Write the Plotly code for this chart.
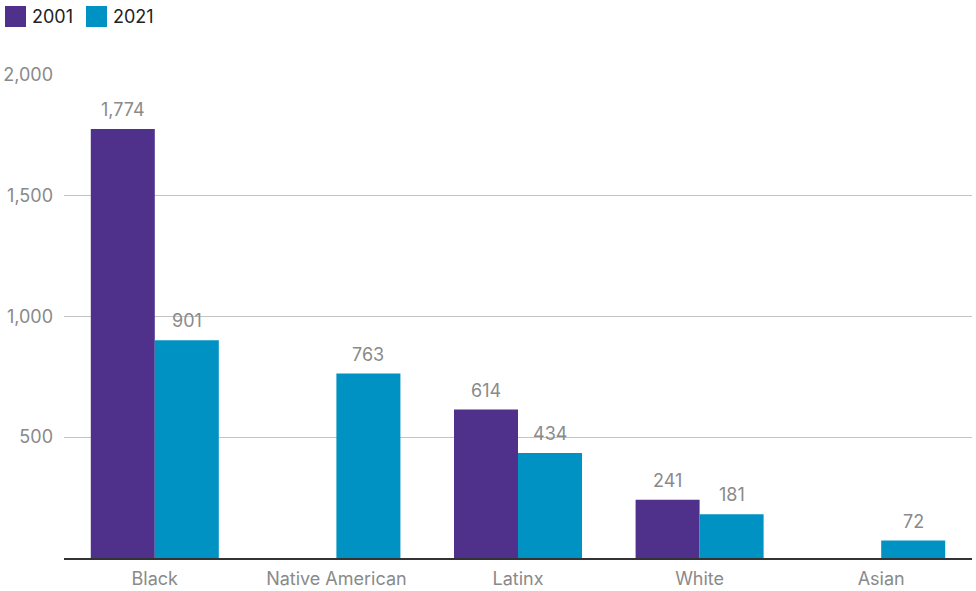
import plotly.graph_objects as go

categories = ["Black", "Native American", "Latinx", "White", "Asian"]
values_2001 = [1774, None, 614, 241, None]
values_2021 = [901, 763, 434, 181, 72]
series_names = ["2001", "2021"]
tick_vals = [500, 1000, 1500, 2000]
tick_text = ["500", "1,000", "1,500", "2,000"]

PURPLE = "#4F318C"
TEAL = "#0092C2"
GRAY = "#8a8a8a"
FONT = "Inter, Roboto, sans-serif"

W, H = 976, 591
ML, MR, MT, MB = 64, 4, 74, 33
BARGAP = 0.295
PW, PH = W - ML - MR, H - MT - MB

fig = go.Figure()
series = [(series_names[0], values_2001, PURPLE), (series_names[1], values_2021, TEAL)]
for name, vals, col in series:
    fig.add_trace(go.Bar(name=name, x=categories, y=vals, marker_color=col,
                         marker_line_width=0, showlegend=False, hoverinfo="skip"))

# value labels above bars (positions from the library's category/value scales)
bar_w = (1 - BARGAP) / 2
for si, (name, vals, col) in enumerate(series):
    off = (si - 0.5) * bar_w
    for ci, v in enumerate(vals):
        if v is None:
            continue
        fig.add_annotation(x=ci + off, y=v, xref="x", yref="y", text=f"{v:,}",
                           showarrow=False, yanchor="bottom", yshift=7,
                           font=dict(color=GRAY, size=18, family=FONT))

# custom legend (square swatches + labels) in the top-left corner
def px_x(p):
    return (p - ML) / PW

def px_y(p):
    return (H - MB - p) / PH

legend_items = [(series_names[0], PURPLE, 5), (series_names[1], TEAL, 86)]
for name, col, x0 in legend_items:
    fig.add_shape(type="rect", xref="paper", yref="paper",
                  x0=px_x(x0), x1=px_x(x0 + 21), y0=px_y(27), y1=px_y(6),
                  fillcolor=col, line_width=0)
    fig.add_annotation(xref="paper", yref="paper", x=px_x(x0 + 25), y=px_y(16.5),
                       xanchor="left", yanchor="middle", text=name, showarrow=False,
                       font=dict(color="#222", size=18, family=FONT))

fig.update_layout(
    width=W, height=H,
    margin=dict(l=ML, r=MR, t=MT, b=MB, autoexpand=False),
    paper_bgcolor="white", plot_bgcolor="white",
    barmode="group", bargap=BARGAP, bargroupgap=0,
    font=dict(family=FONT, size=17, color=GRAY),
    showlegend=False,
    xaxis=dict(showgrid=False, showline=True, linecolor="#333", linewidth=1.5,
               ticks="", ticklabelstandoff=4, automargin=False,
               tickfont=dict(color=GRAY, size=18), fixedrange=True),
    yaxis=dict(range=[0, 2002], tickvals=tick_vals, ticktext=tick_text,
               showgrid=True, gridcolor="#c4c4c4", gridwidth=1,
               zeroline=False, showline=False, ticks="", automargin=False,
               ticklabelstandoff=10, fixedrange=True,
               tickfont=dict(color=GRAY, size=18)),
)
fig.write_html("out.html", config={"displayModeBar": False},
               post_script="document.body.style.margin='0';document.body.style.overflow='hidden';")
